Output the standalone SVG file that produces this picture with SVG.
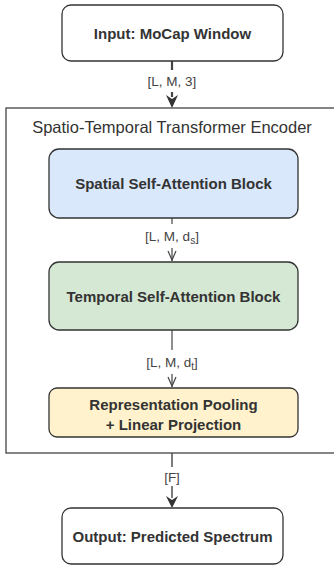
<svg xmlns="http://www.w3.org/2000/svg" width="334" height="565" viewBox="0 0 334 565">
  <style>
    .box { stroke: #333333; stroke-width: 1.3; }
    .title { font-family: "Liberation Sans", Arial, sans-serif; font-size: 15px; font-weight: bold; fill: #333333; text-anchor: middle; dominant-baseline: central; }
    .group-title { font-family: "Liberation Sans", Arial, sans-serif; font-size: 16.5px; fill: #333333; text-anchor: middle; dominant-baseline: central; }
    .lbl { font-family: "Liberation Sans", Arial, sans-serif; font-size: 13.5px; fill: #444444; text-anchor: middle; }
    .sub { font-size: 10px; }
    .lbl-bg { fill: #ffffff; }
    .edge { stroke: #444444; fill: none; }
  </style>

  <rect width="334" height="565" fill="#ffffff"/>

  <!-- encoder container -->
  <g id="encoder">
    <rect x="6" y="108" width="334" height="345" fill="#ffffff" stroke="#444444" stroke-width="1.3"/>
    <text class="group-title" x="172" y="127">Spatio-Temporal Transformer Encoder</text>
  </g>

  <!-- connectors -->
  <g id="connectors">
    <!-- input -> encoder -->
    <line class="edge" x1="172" y1="61" x2="172" y2="97" stroke-width="2.2"/>
    <path d="M166,95 L172,99 L178,95 L172,108 Z" fill="#333333"/>
    <rect class="lbl-bg" x="143" y="70" width="58" height="22"/>
    <text class="lbl" x="172" y="86">[L, M, 3]</text>

    <!-- spatial -> temporal -->
    <line class="edge" x1="172" y1="218" x2="172" y2="261" stroke-width="1.2"/>
    <path class="edge" d="M168,251 L172,260 L176,251" stroke-width="1.2"/>
    <rect class="lbl-bg" x="142" y="224" width="62" height="24"/>
    <text class="lbl" x="172" y="241">[L, M, d<tspan class="sub" dy="3">s</tspan><tspan dy="-3">]</tspan></text>

    <!-- temporal -> pooling -->
    <line class="edge" x1="172" y1="330" x2="172" y2="387" stroke-width="1.2"/>
    <path class="edge" d="M168,377 L172,386 L176,377" stroke-width="1.2"/>
    <rect class="lbl-bg" x="142" y="350" width="62" height="24"/>
    <text class="lbl" x="172" y="367">[L, M, d<tspan class="sub" dy="3">t</tspan><tspan dy="-3">]</tspan></text>

    <!-- encoder -> output -->
    <line class="edge" x1="172" y1="453" x2="172" y2="498" stroke-width="1.4"/>
    <path d="M166,496 L172,500 L178,496 L172,508 Z" fill="#333333"/>
    <rect class="lbl-bg" x="158" y="467" width="28" height="19"/>
    <text class="lbl" x="172" y="482">[F]</text>
  </g>

  <g id="input">
    <rect class="box" x="62" y="5" width="221" height="56" rx="9" fill="#ffffff"/>
    <text class="title" x="172.5" y="33">Input: MoCap Window</text>
  </g>

  <g id="spatial">
    <rect class="box" x="49" y="149" width="249" height="69" rx="10" fill="#dae8fc"/>
    <text class="title" x="173.5" y="183.5">Spatial Self-Attention Block</text>
  </g>

  <g id="temporal">
    <rect class="box" x="49" y="262" width="249" height="68" rx="10" fill="#d5e8d4"/>
    <text class="title" x="173.5" y="296">Temporal Self-Attention Block</text>
  </g>

  <g id="pooling">
    <rect class="box" x="49" y="388" width="249" height="49" rx="8" fill="#fff2cc"/>
    <text class="title" x="173.5" y="404">Representation Pooling</text>
    <text class="title" x="173.5" y="424">+ Linear Projection</text>
  </g>

  <g id="output">
    <rect class="box" x="62" y="508" width="221" height="56" rx="9" fill="#ffffff"/>
    <text class="title" x="172.5" y="536">Output: Predicted Spectrum</text>
  </g>
</svg>
